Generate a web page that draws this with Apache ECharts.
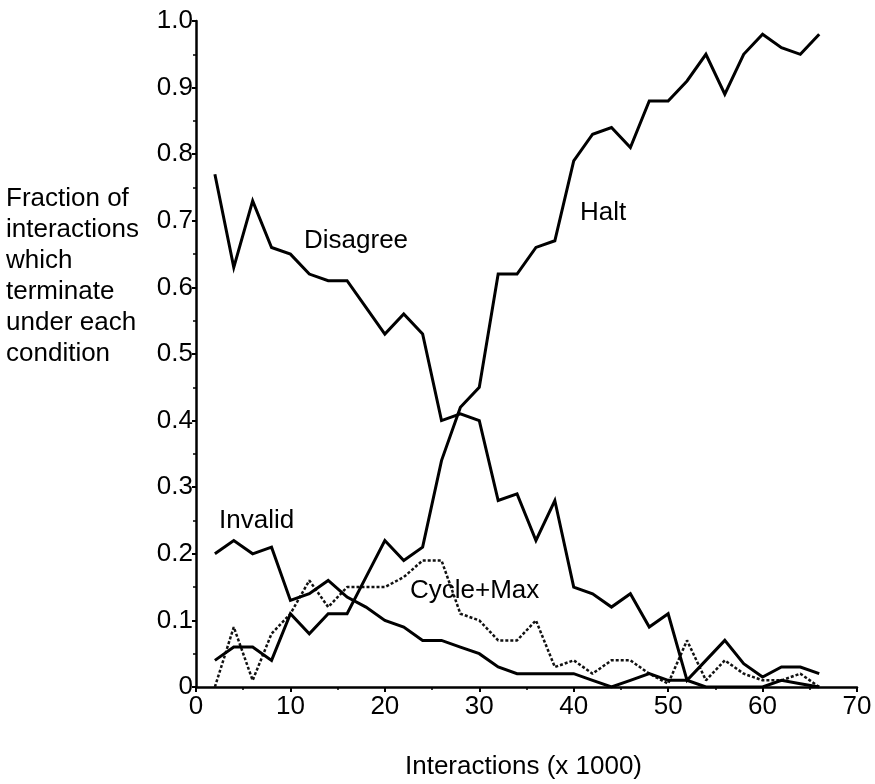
<!DOCTYPE html>
<html>
<head>
<meta charset="utf-8">
<script src="https://cdn.jsdelivr.net/npm/echarts@6/dist/echarts.min.js"></script>
<style>
html,body{margin:0;padding:0;background:#fff;}
#chart{width:875px;height:784px;}
</style>
</head>
<body>
<div id="chart"></div>
<script>
var interactions = [2,4,6,8,10,12,14,16,18,20,22,24,26,28,30,32,34,36,38,40,42,44,46,48,50,52,54,56,58,60,62,64,66];
var halt = [0.04,0.06,0.06,0.04,0.11,0.08,0.11,0.11,0.165,0.22,0.19,0.21,0.34,0.42,0.45,0.62,0.62,0.66,0.67,0.79,0.83,0.84,0.81,0.88,0.88,0.91,0.95,0.89,0.95,0.98,0.96,0.95,0.98];
var disagree = [0.77,0.63,0.73,0.66,0.65,0.62,0.61,0.61,0.57,0.53,0.56,0.53,0.40,0.41,0.40,0.28,0.29,0.22,0.28,0.15,0.14,0.12,0.14,0.09,0.11,0.01,0.04,0.07,0.035,0.015,0.03,0.03,0.02];
var invalid = [0.20,0.22,0.20,0.21,0.13,0.14,0.16,0.135,0.12,0.10,0.09,0.07,0.07,0.06,0.05,0.03,0.02,0.02,0.02,0.02,0.01,0.00,0.01,0.02,0.01,0.01,0.00,0.00,0.00,0.00,0.01,0.005,0.00];
var cycleMax = [0.00,0.09,0.01,0.08,0.11,0.16,0.12,0.15,0.15,0.15,0.165,0.19,0.19,0.11,0.10,0.07,0.07,0.10,0.03,0.04,0.02,0.04,0.04,0.02,0.005,0.07,0.01,0.04,0.02,0.01,0.01,0.02,0.00];
var seriesNames = ['Halt','Disagree','Invalid','Cycle+Max'];
var xTitle = 'Interactions (x 1000)';
var yTitle = 'Fraction of\ninteractions\nwhich\nterminate\nunder each\ncondition';

function pairs(ys){ return interactions.map(function(x,i){ return [x, ys[i]]; }); }

var FONT = "'Liberation Sans', Arial, Helvetica, sans-serif";
var FS = 26;
var chart = echarts.init(document.getElementById('chart'));
var solid = {color:'#000', width:3, join:'miter'};
chart.setOption({
  backgroundColor:'#fff',
  animation:false,
  grid:{left:196, right:18, top:21, bottom:97, containLabel:false},
  xAxis:{
    type:'value', min:0, max:70, interval:10,
    axisLine:{show:true, onZero:false, lineStyle:{color:'#000', width:2.5}},
    axisTick:{show:true, inside:false, length:5, lineStyle:{color:'#000', width:2}},
    minorTick:{show:true, splitNumber:2, length:3, lineStyle:{color:'#000', width:1.5}},
    axisLabel:{color:'#000', fontSize:FS, fontFamily:FONT, margin:7},
    splitLine:{show:false}
  },
  yAxis:{
    type:'value', min:0, max:1, interval:0.1,
    axisLine:{show:true, lineStyle:{color:'#000', width:2.5}},
    axisTick:{show:true, inside:false, length:4, lineStyle:{color:'#000', width:2}},
    minorTick:{show:true, splitNumber:2, length:3, lineStyle:{color:'#000', width:1.5}},
    axisLabel:{color:'#000', fontSize:FS, fontFamily:FONT, margin:3,
      formatter:function(v){ return v===0 ? '0' : v.toFixed(1); }},
    splitLine:{show:false}
  },
  series:[
    {name:seriesNames[0], type:'line', data:pairs(halt), symbol:'none', lineStyle:solid, z:3},
    {name:seriesNames[1], type:'line', data:pairs(disagree), symbol:'none', lineStyle:solid, z:3},
    {name:seriesNames[2], type:'line', data:pairs(invalid), symbol:'none', lineStyle:solid, z:3},
    {name:seriesNames[3], type:'line', data:pairs(cycleMax), symbol:'none',
      lineStyle:{color:'#111', width:2.5, type:[3,2]}, z:2}
  ],
  graphic:[
    {type:'text', left:6, top:183, style:{text:yTitle, font:FS+'px '+FONT, fill:'#000', lineHeight:31}},
    {type:'text', left:405, top:754, style:{text:xTitle, font:FS+'px '+FONT, fill:'#000'}},
    {type:'text', left:304, top:228, style:{text:seriesNames[1], font:FS+'px '+FONT, fill:'#000'}},
    {type:'text', left:580, top:200, style:{text:seriesNames[0], font:FS+'px '+FONT, fill:'#000'}},
    {type:'text', left:219, top:508, style:{text:seriesNames[2], font:FS+'px '+FONT, fill:'#000'}},
    {type:'text', left:410, top:578, style:{text:seriesNames[3], font:FS+'px '+FONT, fill:'#000'}}
  ]
});
</script>
</body>
</html>
